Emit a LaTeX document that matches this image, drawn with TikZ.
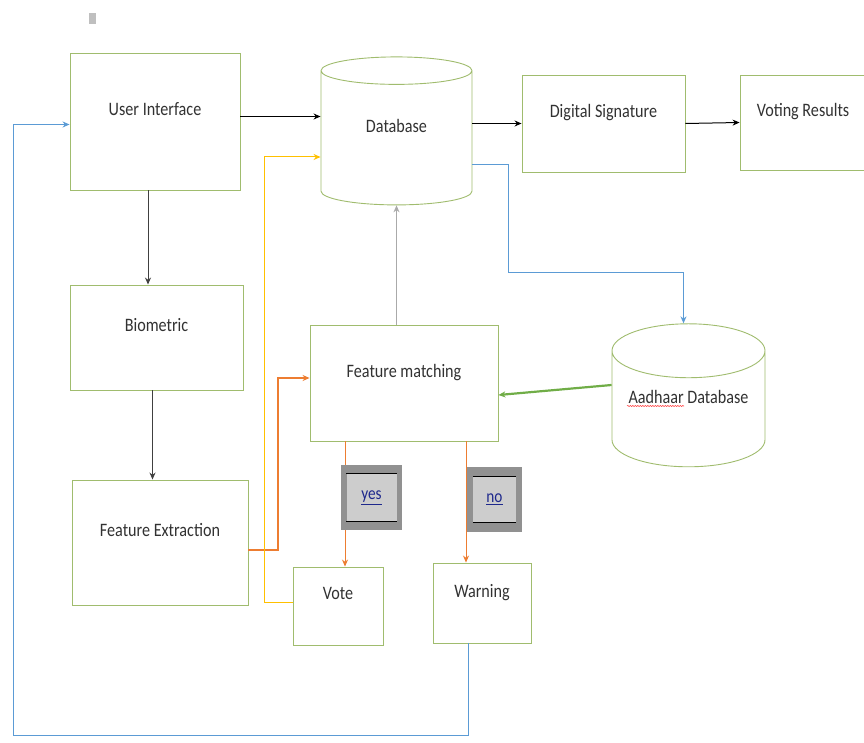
\documentclass[tikz,border=0pt]{standalone}
\usepackage{fontspec}
\setmainfont{Carlito}[FakeStretch=0.85]
\usetikzlibrary{shapes.geometric,arrows.meta,decorations.pathmorphing}

\definecolor{boxgreen}{RGB}{160,188,110}
\definecolor{textgray}{RGB}{50,50,50}
\definecolor{lineorange}{RGB}{237,125,49}
\definecolor{lineyellow}{RGB}{255,192,0}
\definecolor{lineblue}{RGB}{91,155,213}
\definecolor{linegreen}{RGB}{112,173,71}
\definecolor{linegray}{RGB}{170,170,170}
\definecolor{tagouter}{RGB}{145,145,145}
\definecolor{taginner}{RGB}{205,205,205}
\definecolor{tagtext}{RGB}{30,40,140}

\tikzset{
  block/.style={draw=boxgreen, line width=0.9pt, fill=white, text=textgray,
    font=\fontsize{19}{22}\selectfont, text depth=25pt, inner sep=0pt},
  dbshape/.style={cylinder, shape border rotate=90, aspect=0.45, draw=boxgreen,
    line width=0.9pt, fill=white, text=textgray, font=\fontsize{19}{22}\selectfont,
    text depth=25pt, inner sep=0pt},
  flow/.style={line width=1pt, ->},
  tagbox/.style={fill=tagouter, inner sep=0pt},
  taglabel/.style={fill=taginner, text=tagtext, font=\fontsize{18}{20}\selectfont, inner sep=0pt}
}

\begin{document}
\begin{tikzpicture}[x=1pt, y=-1pt, >={Stealth[length=7pt,width=6pt]}]
\useasboundingbox (0,0) rectangle (864,743);

% small mark in the corner
\fill[gray!50] (89,13) rectangle (96,24);

% blocks
\node[block, minimum width=170, minimum height=137] (ui) at (155,121.5) {User Interface};
\node[dbshape, minimum width=151, minimum height=148] (db) at (396.5,138) {Database};
\node[block, minimum width=163, minimum height=97] (ds) at (603.5,123.5) {Digital Signature};
\node[block, minimum width=126, minimum height=95] (vr) at (803,122.5) {Voting Results};
\node[block, minimum width=173, minimum height=105] (bio) at (156.5,337.5) {Biometric};
\node[block, minimum width=176, minimum height=125] (fe) at (160,542.5) {Feature Extraction};
\node[block, minimum width=188, minimum height=116] (fm) at (404,383) {Feature matching};
\node[dbshape, minimum width=153, minimum height=143] (ad) at (688.5,409) {Aadhaar Database};
\node[block, minimum width=90, minimum height=78] (vote) at (338,606) {Vote};
\node[block, minimum width=98, minimum height=80] (wn) at (482,603) {Warning};

% spell check mark
\draw[red!80, line width=0.5pt, decorate, decoration={snake, amplitude=0.6pt, segment length=2.5pt}]
  (627,406) -- (684,406);

% connectors
\draw[flow] ([yshift=5pt]ui.east) -- ([yshift=5pt]ui.east -| db.west);
\draw[flow] (ds.west -| db.east) -- (ds.west);
\draw[flow] (ds.east) -- (vr.west);
\draw[flow, draw=black!75] ([xshift=-7pt]ui.south) -- ([xshift=-7pt]ui.south |- bio.north);
\draw[flow, draw=black!75] ([xshift=-4pt]bio.south) -- ([xshift=-4pt]bio.south |- fe.north);
\draw[flow, draw=linegray, line width=1.2pt] (db.south |- fm.north) -- (db.south);
\draw[flow, draw=lineorange, line width=2pt] ([yshift=-7pt]fe.east) -- ++(30,0) |- ([yshift=5pt]fm.west);
\draw[flow, draw=lineyellow] ([yshift=4pt]vote.west) -- ++(-28,0) |- ([yshift=-19pt]db.west);
\draw[flow, draw=lineblue] ([yshift=-27pt]db.east) -- ++(36,0) -- ++(0,107) -| ([xshift=-5pt]ad.north);
\draw[flow, draw=linegreen, line width=2.2pt] ([yshift=24pt]ad.west) -- ([yshift=-12pt]fm.east);
\draw[flow, draw=lineorange, line width=0.8pt] ([xshift=7pt]vote.north |- fm.south) -- ([xshift=7pt]vote.north);
\draw[flow, draw=lineorange, line width=0.8pt] ([xshift=-16pt]wn.north |- fm.south) -- ([xshift=-16pt]wn.north);
\coordinate (loop) at (13,735);
\draw[flow, draw=lineblue] ([xshift=-14pt]wn.south) |- (loop) |- ([yshift=-3pt]ui.west);

% yes / no tags
\node[tagbox, minimum width=61, minimum height=65] (yesbox) at (371.5,497.5) {};
\node[taglabel, minimum width=50, minimum height=48] (yes) at (yesbox) {\underline{yes}};
\node[tagbox, minimum width=55, minimum height=65] (nobox) at (494.5,499.5) {};
\node[taglabel, minimum width=43, minimum height=46] (no) at (nobox) {\underline{no}};
\foreach \t in {yes,no}
  \draw[line width=1.5pt] (\t.north west) -- (\t.north east) (\t.south west) -- (\t.south east);
\end{tikzpicture}
\end{document}
